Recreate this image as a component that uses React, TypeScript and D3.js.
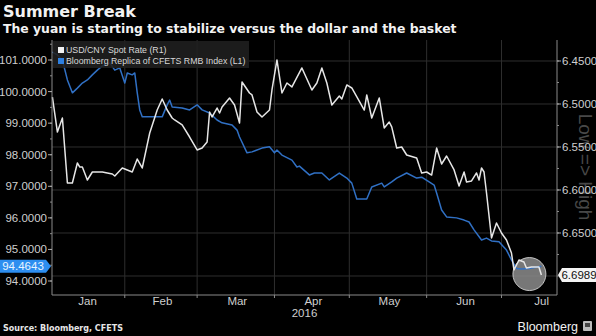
import React from "react";
import * as d3 from "d3";

const W = 596;
const H = 336;
const PL = 52, PR = 557, PT = 40, PB = 295;

const usdDates = ["2016-01-03","2016-01-05","2016-01-07","2016-01-09","2016-01-11","2016-01-13","2016-01-14","2016-01-15","2016-01-17","2016-01-19","2016-01-23","2016-01-25","2016-01-27","2016-01-28","2016-01-31","2016-02-04","2016-02-06","2016-02-08","2016-02-11","2016-02-14","2016-02-16","2016-02-18","2016-02-20","2016-02-21","2016-02-24","2016-02-27","2016-03-01","2016-03-03","2016-03-05","2016-03-06","2016-03-07","2016-03-09","2016-03-10","2016-03-11","2016-03-14","2016-03-16","2016-03-18","2016-03-19","2016-03-22","2016-03-23","2016-03-25","2016-03-27","2016-03-30","2016-03-31","2016-04-02","2016-04-04","2016-04-06","2016-04-08","2016-04-12","2016-04-16","2016-04-18","2016-04-20","2016-04-22","2016-04-24","2016-04-27","2016-04-28","2016-04-30","2016-05-02","2016-05-07","2016-05-08","2016-05-10","2016-05-13","2016-05-15","2016-05-17","2016-05-18","2016-05-20","2016-05-22","2016-05-24","2016-05-28","2016-05-30","2016-06-01","2016-06-03","2016-06-05","2016-06-07","2016-06-09","2016-06-12","2016-06-14","2016-06-16","2016-06-17","2016-06-19","2016-06-21","2016-06-22","2016-06-23","2016-06-24","2016-06-25","2016-06-27","2016-06-29","2016-07-01","2016-07-03","2016-07-05","2016-07-06","2016-07-08","2016-07-10","2016-07-11","2016-07-13","2016-07-15","2016-07-16","2016-07-17"];
const usdValues = [6.4919,6.5326,6.5163,6.5919,6.5919,6.5686,6.5733,6.5733,6.5884,6.5791,6.5791,6.5802,6.5814,6.5837,6.5744,6.5791,6.5640,6.5744,6.5337,6.5070,6.4942,6.5070,6.5163,6.5186,6.5244,6.5384,6.5535,6.5512,6.5442,6.5093,6.5151,6.5047,6.5105,6.5035,6.4930,6.5012,6.5221,6.4744,6.4872,6.4895,6.5093,6.5151,6.5070,6.4837,6.4488,6.4872,6.4756,6.4802,6.4581,6.4837,6.4756,6.4581,6.4756,6.5012,6.4907,6.4942,6.4779,6.4814,6.5070,6.4895,6.5163,6.4930,6.5279,6.5209,6.5267,6.5512,6.5500,6.5593,6.5628,6.5802,6.5791,6.5826,6.5512,6.5698,6.5605,6.5767,6.5953,6.5791,6.5907,6.5895,6.5802,6.5884,6.5744,6.5791,6.6035,6.6558,6.6384,6.6500,6.6581,6.6733,6.6930,6.6814,6.6837,6.6907,6.6895,6.6895,6.6895,6.6989];

const cfetsDates = ["2016-01-03","2016-01-05","2016-01-07","2016-01-09","2016-01-11","2016-01-13","2016-01-15","2016-01-17","2016-01-19","2016-01-21","2016-01-23","2016-01-26","2016-01-28","2016-01-30","2016-02-01","2016-02-02","2016-02-04","2016-02-05","2016-02-06","2016-02-07","2016-02-08","2016-02-12","2016-02-16","2016-02-18","2016-02-19","2016-02-20","2016-02-24","2016-02-27","2016-03-01","2016-03-03","2016-03-06","2016-03-09","2016-03-11","2016-03-15","2016-03-17","2016-03-18","2016-03-21","2016-03-23","2016-03-27","2016-03-30","2016-04-01","2016-04-02","2016-04-04","2016-04-08","2016-04-10","2016-04-11","2016-04-15","2016-04-17","2016-04-20","2016-04-23","2016-04-27","2016-04-30","2016-05-02","2016-05-04","2016-05-08","2016-05-10","2016-05-14","2016-05-15","2016-05-18","2016-05-20","2016-05-24","2016-05-28","2016-05-30","2016-06-02","2016-06-04","2016-06-05","2016-06-07","2016-06-09","2016-06-13","2016-06-16","2016-06-18","2016-06-20","2016-06-23","2016-06-25","2016-06-27","2016-06-30","2016-07-03","2016-07-05","2016-07-07","2016-07-09","2016-07-12","2016-07-16","2016-07-17"];
const cfetsValues = [101.25,101.16,101.00,100.37,99.96,100.11,100.27,100.37,100.53,100.68,100.81,100.91,100.68,100.75,100.27,100.59,100.53,100.59,99.96,99.42,99.20,99.20,99.20,99.58,99.73,99.51,99.48,99.42,99.58,99.42,99.32,99.10,99.01,98.94,98.78,98.56,98.06,98.09,98.21,98.25,98.06,98.15,97.99,97.83,97.61,97.64,97.36,97.42,97.42,97.20,97.42,97.26,97.10,96.60,96.60,96.98,97.10,96.98,97.14,97.26,97.42,97.26,97.29,97.14,97.04,96.79,96.25,96.03,96.00,95.93,95.87,95.62,95.30,95.36,95.27,95.24,94.98,94.67,94.40,94.38,94.40,94.45,94.4643];

const leftTicks = [94, 95, 96, 97, 98, 99, 100, 101];
const rightTicks = [6.45, 6.5, 6.55, 6.6, 6.65, 6.7];
const monthNames = ["Jan", "Feb", "Mar", "Apr", "May", "Jun", "Jul"];
const monthStarts = ["2016-01-01","2016-02-01","2016-03-01","2016-04-01","2016-05-01","2016-06-01","2016-07-01","2016-08-01"];

const lastCfetsLabel = "94.4643";
const lastUsdLabel = "6.6989";
const legendItems = ["USD/CNY Spot Rate (R1)", "Bloomberg Replica of CFETS RMB Index (L1)"];

const parse = d3.timeParse("%Y-%m-%d");
const AXF = "'Liberation Sans Narrow', 'Liberation Sans', Arial, sans-serif";
const SANS = "'Liberation Sans', Arial, sans-serif";
const BOLDF = "'DejaVu Sans', Verdana, sans-serif";

export default function App() {
  const x = d3.scaleTime()
    .domain([new Date(2016, 0, 2, 20), new Date(2016, 6, 23, 6)])
    .range([PL, PR]);
  const yL = d3.scaleLinear().domain([93.557, 101.634]).range([PB, PT]);
  const yR = d3.scaleLinear().domain([6.4256, 6.7221]).range([PT, PB]);

  const usd = usdDates.map((d, i) => ({ d: parse(d) as Date, v: usdValues[i] }));
  const cf = cfetsDates.map((d, i) => ({ d: parse(d) as Date, v: cfetsValues[i] }));

  const lineR = d3.line<{ d: Date; v: number }>().x(p => x(p.d)).y(p => yR(p.v));
  const lineL = d3.line<{ d: Date; v: number }>().x(p => x(p.d)).y(p => yL(p.v));

  const mStarts = monthStarts.map(s => parse(s) as Date);
  const gridX = mStarts.slice(1, 7);
  const monthMid = monthNames.map((m, i) => {
    const a = mStarts[i], b = mStarts[i + 1];
    return { m, x: x(new Date((a.getTime() + b.getTime()) / 2)) };
  });

  const leftMinor = d3.range(93.5, 101.6, 0.5).filter(v => yL(v) >= PT && yL(v) <= PB);
  const rightMinor = d3.range(6.425, 6.7221, 0.025).filter(v => yR(v) >= PT && yR(v) <= PB);

  const lastL = yL(parseFloat(lastCfetsLabel));
  const lastR = yR(parseFloat(lastUsdLabel));
  const lastPt = usd[usd.length - 1];
  const cx = x(lastPt.d) - 12;
  const cy = yR(lastPt.v) - 1;

  return (
    <div style={{ position: "absolute", left: 0, top: 0, width: W, height: H, background: "#000" }}>
      <svg width={W} height={H} style={{ display: "block" }}>
        <rect x={0} y={0} width={W} height={H} fill="#000" />
        <text x={3} y={17} fontFamily={BOLDF} fontWeight="bold" fontSize={16} fill="#f2f2f2">Summer Break</text>
        <text x={3} y={33} fontFamily={BOLDF} fontWeight="bold" fontSize={12.4} fill="#f2f2f2">
          The yuan is starting to stabilize versus the dollar and the basket
        </text>

        {/* grid */}
        {rightTicks.map(t => (
          <line key={"gh" + t} x1={PL} x2={PR} y1={yR(t)} y2={yR(t)} stroke="#2e2e2e" strokeWidth={1} />
        ))}
        {gridX.map((d, i) => (
          <line key={"gv" + i} x1={x(d)} x2={x(d)} y1={PT} y2={PB} stroke="#2e2e2e" strokeWidth={1} />
        ))}

        {/* Low => High */}
        <text transform={`translate(585,167) rotate(90)`} textAnchor="middle" dominantBaseline="central"
          fontFamily={SANS} fontSize={19} fill="#484848">Low =&gt; High</text>

        {/* highlight circle */}
        <circle cx={cx} cy={cy} r={16.5} fill="rgba(140,140,140,0.85)" stroke="rgba(210,210,210,0.9)" strokeWidth={1} />

        {/* lines */}
        <path d={lineL(cf) || ""} fill="none" stroke="#3070c4" strokeWidth={1.5} strokeLinejoin="round" />
        <path d={lineR(usd) || ""} fill="none" stroke="#e6e6e6" strokeWidth={1.5} strokeLinejoin="round" />

        {/* axes */}
        <line x1={PL} x2={PL} y1={PT} y2={PB} stroke="#8a8a8a" />
        <line x1={PR} x2={PR} y1={PT} y2={PB} stroke="#8a8a8a" />
        <line x1={PL} x2={PR} y1={PB} y2={PB} stroke="#8a8a8a" />

        {leftMinor.map(v => (
          <line key={"lm" + v} x1={PL - 2} x2={PL} y1={yL(v)} y2={yL(v)} stroke="#8a8a8a" />
        ))}
        {leftTicks.map(t => (
          <g key={"lt" + t}>
            <line x1={PL - 4} x2={PL} y1={yL(t)} y2={yL(t)} stroke="#aaa" />
            <text x={PL - 5} y={yL(t)} textAnchor="end" dominantBaseline="central" fontFamily={AXF} fontSize={11.5} fill="#cfcfcf">
              {t.toFixed(4)}
            </text>
          </g>
        ))}
        {rightMinor.map(v => (
          <line key={"rm" + v} x1={PR} x2={PR + 2} y1={yR(v)} y2={yR(v)} stroke="#8a8a8a" />
        ))}
        {rightTicks.filter(t => t < 6.69).map(t => (
          <g key={"rt" + t}>
            <line x1={PR} x2={PR + 4} y1={yR(t)} y2={yR(t)} stroke="#aaa" />
            <text x={PR + 5} y={yR(t)} dominantBaseline="central" fontFamily={AXF} fontSize={11.5} fill="#cfcfcf">
              {t.toFixed(4)}
            </text>
          </g>
        ))}

        {gridX.map((d, i) => (
          <line key={"bt" + i} x1={x(d)} x2={x(d)} y1={PB} y2={PB + 3} stroke="#8a8a8a" />
        ))}
        {monthMid.map(m => (
          <text key={m.m} x={m.x + 1.5} y={305} textAnchor="middle" fontFamily={AXF} fontSize={11.5} fill="#cfcfcf">{m.m}</text>
        ))}
        <text x={(PL + PR) / 2} y={317} textAnchor="middle" fontFamily={AXF} fontSize={11.5} fill="#cfcfcf">2016</text>

        {/* last value labels */}
        <path d={`M0,${lastL - 6.5} L46,${lastL - 6.5} L51,${lastL} L46,${lastL + 6.5} L0,${lastL + 6.5} Z`} fill="#2d8ef0" />
        <text x={23} y={lastL} textAnchor="middle" dominantBaseline="central" fontFamily={AXF} fontSize={11.5} fill="#e8f4ff">{lastCfetsLabel}</text>
        <path d={`M${PR + 1},${lastR} L${PR + 5},${lastR - 7} L${W},${lastR - 7} L${W},${lastR + 7} L${PR + 5},${lastR + 7} Z`} fill="#f4f4f4" />
        <text x={579} y={lastR} textAnchor="middle" dominantBaseline="central" fontFamily={AXF} fontSize={11.5} fill="#111">{lastUsdLabel}</text>

        {/* legend */}
        <rect x={53} y={41} width={196} height={27} fill="rgba(32,32,32,0.88)" />
        <rect x={58} y={47} width={6} height={6} fill="#f2f2f2" />
        <rect x={58} y={58} width={6} height={6} fill="#2d7fe0" />
        <text x={66} y={50} dominantBaseline="central" fontFamily={SANS} fontSize={8.8} fill="#d8d8d8">{legendItems[0]}</text>
        <text x={66} y={61} dominantBaseline="central" fontFamily={SANS} fontSize={8.8} fill="#d8d8d8">{legendItems[1]}</text>

        {/* footer */}
        <text x={3} y={331} fontFamily={BOLDF} fontWeight="bold" fontSize={8} fill="#e6e6e6">Source: Bloomberg, CFETS</text>
        <text x={578} y={331} textAnchor="end" fontFamily={SANS} fontSize={12.5} fill="#f2f2f2">Bloomberg</text>
        <rect x={583} y={321} width={9} height={10} rx={1} fill="#bbb" />
        <rect x={585} y={323} width={5} height={4} fill="#444" />
      </svg>
    </div>
  );
}
